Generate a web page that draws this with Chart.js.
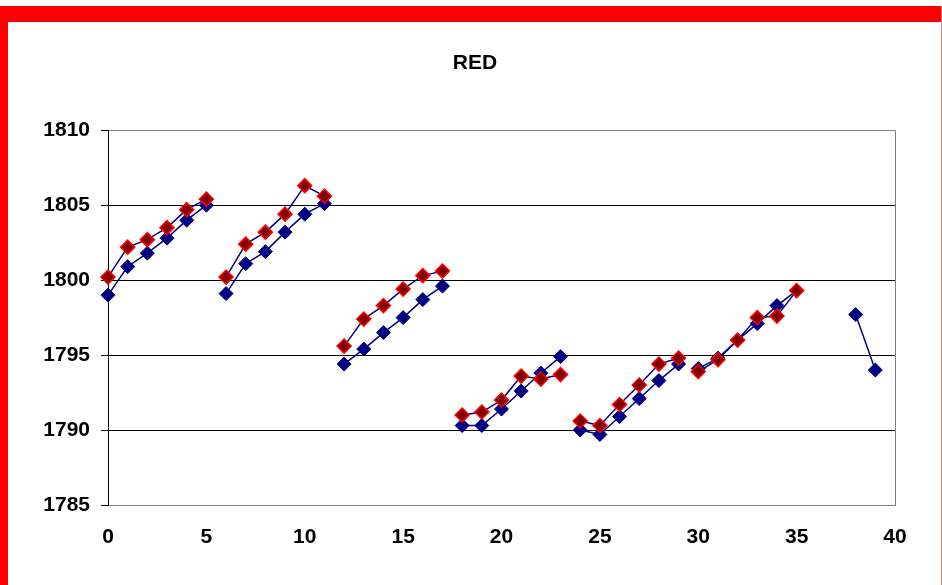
<!DOCTYPE html>
<html>
<head>
<meta charset="utf-8">
<title>RED</title>
<script src="https://cdn.jsdelivr.net/npm/chart.js@4/dist/chart.umd.min.js"></script>
<style>
  html, body { margin: 0; padding: 0; background: #fff; }
  #wrap { position: relative; width: 942px; height: 585px; overflow: hidden; }
  #chart { position: absolute; left: 0; top: 0; }
  .frame { position: absolute; background: #ff0000; }
</style>
</head>
<body>
<div id="wrap">
  <canvas id="chart" width="942" height="585"></canvas>
  <div class="frame" style="left:0;top:6px;width:942px;height:16px;"></div>
  <div class="frame" style="left:0;top:6px;width:8px;height:579px;"></div>
  <div class="frame" style="left:941px;top:6px;width:1px;height:579px;background:#f08080;"></div>
</div>
<script>
// x positions
const blueX = [0, 1, 2, 3, 4, 5, 6, 7, 8, 9, 10, 11, 12, 13, 14, 15, 16, 17,
  18, 19, 20, 21, 22, 23, 24, 25, 26, 27, 28, 29, 30, 31, 32, 33, 34, 35, 38, 39];
const redX = [0, 1, 2, 3, 4, 5, 6, 7, 8, 9, 10, 11, 12, 13, 14, 15, 16, 17,
  18, 19, 20, 21, 22, 23, 24, 25, 26, 27, 28, 29, 30, 31, 32, 33, 34, 35];

// each run of points starts a new line piece
const runStarts = [0, 6, 12, 18, 24, 30, 38];

const blueValues = [
  1799.0, 1800.9, 1801.8, 1802.8, 1804.0, 1805.0,
  1799.1, 1801.1, 1801.9, 1803.2, 1804.4, 1805.1,
  1794.4, 1795.4, 1796.5, 1797.5, 1798.7, 1799.6,
  1790.3, 1790.3, 1791.4, 1792.6, 1793.8, 1794.9,
  1790.0, 1789.7, 1790.9, 1792.1, 1793.3, 1794.4,
  1794.1, 1794.8, 1796.0, 1797.1, 1798.3, 1799.3,
  1797.7, 1794.0
];
const redValues = [
  1800.2, 1802.2, 1802.7, 1803.5, 1804.7, 1805.4,
  1800.2, 1802.4, 1803.2, 1804.4, 1806.3, 1805.6,
  1795.6, 1797.4, 1798.3, 1799.4, 1800.3, 1800.6,
  1791.0, 1791.2, 1792.0, 1793.6, 1793.4, 1793.7,
  1790.6, 1790.3, 1791.7, 1793.0, 1794.4, 1794.8,
  1793.9, 1794.7, 1796.0, 1797.5, 1797.6, 1799.3
];

const yTicks = [1785, 1790, 1795, 1800, 1805, 1810];
const xTicks = [0, 5, 10, 15, 20, 25, 30, 35, 40];

const navy = '#000080';
const boldFont = { family: '"Liberation Sans", Arial, sans-serif', size: 21, weight: 'bold' };

function toPoints(xs, ys) {
  return xs.map((x, i) => ({ x: x, y: ys[i] }));
}
function splitRuns(xs) {
  return {
    borderColor: ctx => runStarts.includes(xs[ctx.p1DataIndex]) ? 'rgba(0,0,0,0)' : navy
  };
}

const ctx = document.getElementById('chart').getContext('2d');
const chart = new Chart(ctx, {
  type: 'line',
  data: {
    datasets: [
      {
        label: 'red',
        data: toPoints(redX, redValues),
        borderColor: navy,
        borderWidth: 1.5,
        pointStyle: 'rectRot',
        pointRadius: 7,
        pointBackgroundColor: '#800000',
        pointBorderColor: '#ff0000',
        pointBorderWidth: 1.5,
        segment: splitRuns(redX),
        clip: false,
        order: 0
      },
      {
        label: 'blue',
        data: toPoints(blueX, blueValues),
        borderColor: navy,
        borderWidth: 1.5,
        pointStyle: 'rectRot',
        pointRadius: 7,
        pointBackgroundColor: navy,
        pointBorderColor: navy,
        pointBorderWidth: 1,
        segment: splitRuns(blueX),
        clip: false,
        order: 1
      }
    ]
  },
  options: {
    responsive: false,
    animation: false,
    layout: { padding: { left: 8, right: 0, top: 0, bottom: 0 } },
    plugins: {
      legend: { display: false },
      tooltip: { enabled: false },
      title: {
        display: true,
        text: 'RED',
        color: '#000',
        font: boldFont,
        padding: { top: 51, bottom: 54 }
      }
    },
    scales: {
      x: {
        type: 'linear',
        min: xTicks[0],
        max: xTicks[xTicks.length - 1],
        afterBuildTicks: s => { s.ticks = xTicks.map(v => ({ value: v })); },
        afterFit: s => { s.height = 80; },
        grid: {
          drawTicks: false,
          color: c => c.tick && c.tick.value === 40 ? '#808080' : 'rgba(0,0,0,0)',
          lineWidth: 1
        },
        border: { color: '#808080', width: 1 },
        ticks: {
          padding: 20,
          color: '#000',
          maxRotation: 0,
          font: boldFont,
          callback: v => String(v)
        }
      },
      y: {
        min: yTicks[0],
        max: yTicks[yTicks.length - 1],
        afterBuildTicks: s => { s.ticks = yTicks.map(v => ({ value: v })); },
        afterFit: s => { s.width = 100; },
        grid: {
          drawTicks: true,
          tickLength: 7,
          tickColor: '#000',
          color: c => (c.tick && (c.tick.value === 1810 || c.tick.value === 1785)) ? '#808080' : '#000',
          lineWidth: 1
        },
        border: { color: '#000', width: 1 },
        ticks: {
          padding: 11,
          color: '#000',
          font: boldFont,
          callback: v => String(v)
        }
      },
      // empty right-hand space, keeps the title centred on the whole frame
      yRight: {
        position: 'right',
        display: true,
        afterFit: s => { s.width = 47; },
        grid: { display: false, drawTicks: false },
        border: { display: false },
        ticks: { display: false }
      }
    }
  }
});
</script>
</body>
</html>
